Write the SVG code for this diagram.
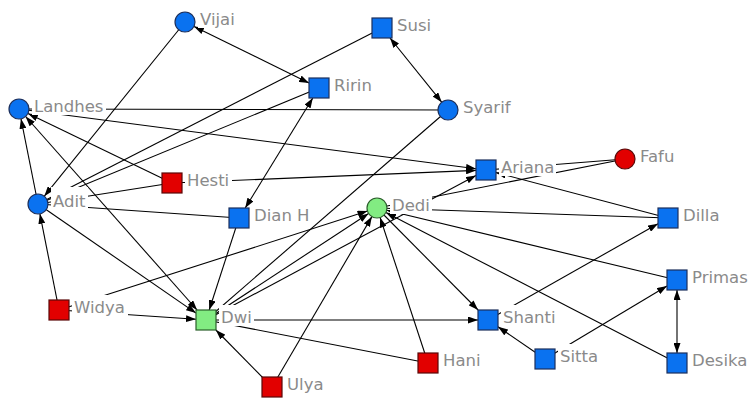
<svg xmlns="http://www.w3.org/2000/svg" width="752" height="398" viewBox="0 0 752 398">
<defs>
<marker id="ah" viewBox="0 0 10 7" refX="10" refY="3.5" markerWidth="10" markerHeight="7" markerUnits="userSpaceOnUse" orient="auto-start-reverse">
<path d="M0,0 L10,3.5 L0,7 z" fill="#000"/>
</marker>
<style>
.e{stroke:#000;stroke-width:1.1;fill:none}
.a{marker-end:url(#ah)}
.b{marker-start:url(#ah);marker-end:url(#ah)}
.blue{fill:#0a72f0;stroke:#1c2f5c;stroke-width:1.2}
.red{fill:#e20000;stroke:#5a0808;stroke-width:1.2}
.green{fill:#82ec82;stroke:#2b5f2b;stroke-width:1.2}
.bg{fill:#fff}
text{font-family:"DejaVu Sans","Liberation Sans",sans-serif;font-size:16.5px;fill:#8a8a8a}
</style>
</defs>
<rect width="752" height="398" fill="#fff"/>
<g id="connectors">
<line class="e a" x1="185" y1="22" x2="44.3" y2="196.2"/>
<line class="e b" x1="194" y1="26.4" x2="309" y2="83.1"/>
<line class="e b" x1="390" y1="38" x2="441.7" y2="102.2"/>
<line class="e" x1="382" y1="28" x2="38" y2="204"/>
<line class="e" x1="319" y1="88" x2="38" y2="204"/>
<line class="e b" x1="312.8" y1="98" x2="245.2" y2="208"/>
<line class="e" x1="19" y1="109" x2="448" y2="110"/>
<line class="e a" x1="19" y1="109" x2="476" y2="168.7"/>
<line class="e a" x1="172" y1="183" x2="28" y2="113.4"/>
<line class="e a" x1="172" y1="183" x2="476" y2="170.4"/>
<line class="e a" x1="38" y1="204" x2="21" y2="118.8"/>
<line class="e" x1="38" y1="204" x2="172" y2="183"/>
<line class="e" x1="38" y1="204" x2="239" y2="218"/>
<line class="e a" x1="38" y1="204" x2="196" y2="313.1"/>
<line class="e b" x1="25.6" y1="116.5" x2="197.1" y2="310"/>
<line class="e a" x1="59" y1="310" x2="39.9" y2="213.8"/>
<line class="e a" x1="59" y1="310" x2="196" y2="319.3"/>
<line class="e a" x1="59" y1="310" x2="367.5" y2="211.1"/>
<line class="e a" x1="239" y1="218" x2="209.2" y2="310"/>
<line class="e" x1="448" y1="110" x2="206" y2="320"/>
<line class="e a" x1="206" y1="320" x2="368.6" y2="213.5"/>
<line class="e a" x1="206" y1="320" x2="476" y2="175.4"/>
<line class="e a" x1="206" y1="320" x2="478" y2="320"/>
<line class="e" x1="428" y1="363" x2="206" y2="320"/>
<line class="e a" x1="272" y1="387" x2="215.9" y2="330"/>
<line class="e a" x1="272" y1="387" x2="371.9" y2="216.6"/>
<line class="e a" x1="428" y1="363" x2="380.1" y2="217.5"/>
<line class="e a" x1="377" y1="208" x2="478.1" y2="310"/>
<line class="e a" x1="677" y1="280" x2="386.7" y2="210.3"/>
<line class="e a" x1="677" y1="363" x2="385.9" y2="212.6"/>
<line class="e" x1="668" y1="218" x2="377" y2="208"/>
<line class="e" x1="625" y1="159" x2="486" y2="170"/>
<line class="e" x1="625" y1="159" x2="377" y2="208"/>
<line class="e a" x1="668" y1="218" x2="496" y2="172.6"/>
<line class="e a" x1="545" y1="359" x2="498" y2="326.8"/>
<line class="e a" x1="545" y1="359" x2="667" y2="286"/>
<line class="e a" x1="488" y1="320" x2="658" y2="223.7"/>
<line class="e b" x1="677" y1="290" x2="677" y2="353"/>
</g>
<g id="node-vijai"><circle class="blue" cx="185" cy="22" r="10"/><rect class="bg" x="198" y="7" width="40" height="21"/><text x="200" y="25">Vijai</text></g>
<g id="node-susi"><rect class="blue" x="372" y="18" width="20" height="20"/><rect class="bg" x="395" y="13" width="39" height="21"/><text x="397" y="31">Susi</text></g>
<g id="node-ririn"><rect class="blue" x="309" y="78" width="20" height="20"/><rect class="bg" x="332" y="73" width="42" height="21"/><text x="334" y="91">Ririn</text></g>
<g id="node-syarif"><circle class="blue" cx="448" cy="110" r="10"/><rect class="bg" x="461" y="95" width="52" height="21"/><text x="463" y="113">Syarif</text></g>
<g id="node-landhes"><circle class="blue" cx="19" cy="109" r="10"/><rect class="bg" x="32" y="94" width="74" height="21"/><text x="34" y="112">Landhes</text></g>
<g id="node-hesti"><rect class="red" x="162" y="173" width="20" height="20"/><rect class="bg" x="185" y="168" width="47" height="21"/><text x="187" y="186">Hesti</text></g>
<g id="node-ariana"><rect class="blue" x="476" y="160" width="20" height="20"/><rect class="bg" x="499" y="155" width="57" height="21"/><text x="501" y="173">Ariana</text></g>
<g id="node-fafu"><circle class="red" cx="625" cy="159" r="10"/><rect class="bg" x="638" y="144" width="40" height="21"/><text x="640" y="162">Fafu</text></g>
<g id="node-adit"><circle class="blue" cx="38" cy="204" r="10"/><rect class="bg" x="51" y="187" width="37" height="23"/><text x="53" y="207">Adit</text></g>
<g id="node-dianh"><rect class="blue" x="229" y="208" width="20" height="20"/><rect class="bg" x="252" y="203" width="60" height="21"/><text x="254" y="221">Dian H</text></g>
<g id="node-dedi"><circle class="green" cx="377" cy="208" r="10"/><rect class="bg" x="390" y="193" width="42" height="21"/><text x="392" y="211">Dedi</text></g>
<g id="node-dilla"><rect class="blue" x="658" y="208" width="20" height="20"/><rect class="bg" x="681" y="203" width="41" height="21"/><text x="683" y="221">Dilla</text></g>
<g id="node-primas"><rect class="blue" x="667" y="270" width="20" height="20"/><rect class="bg" x="690" y="265" width="60" height="21"/><text x="692" y="283">Primas</text></g>
<g id="node-widya"><rect class="red" x="49" y="300" width="20" height="20"/><rect class="bg" x="72" y="295" width="56" height="21"/><text x="74" y="313">Widya</text></g>
<g id="node-dwi"><rect class="green" x="196" y="310" width="20" height="20"/><rect class="bg" x="219" y="305" width="35" height="21"/><text x="221" y="323">Dwi</text></g>
<g id="node-shanti"><rect class="blue" x="478" y="310" width="20" height="20"/><rect class="bg" x="501" y="305" width="57" height="21"/><text x="503" y="323">Shanti</text></g>
<g id="node-hani"><rect class="red" x="418" y="353" width="20" height="20"/><rect class="bg" x="441" y="348" width="42" height="21"/><text x="443" y="366">Hani</text></g>
<g id="node-sitta"><rect class="blue" x="535" y="349" width="20" height="20"/><rect class="bg" x="558" y="344" width="42" height="21"/><text x="560" y="362">Sitta</text></g>
<g id="node-desika"><rect class="blue" x="667" y="353" width="20" height="20"/><rect class="bg" x="690" y="348" width="60" height="21"/><text x="692" y="366">Desika</text></g>
<g id="node-ulya"><rect class="red" x="262" y="377" width="20" height="20"/><rect class="bg" x="285" y="372" width="41" height="21"/><text x="287" y="390">Ulya</text></g>
</svg>
